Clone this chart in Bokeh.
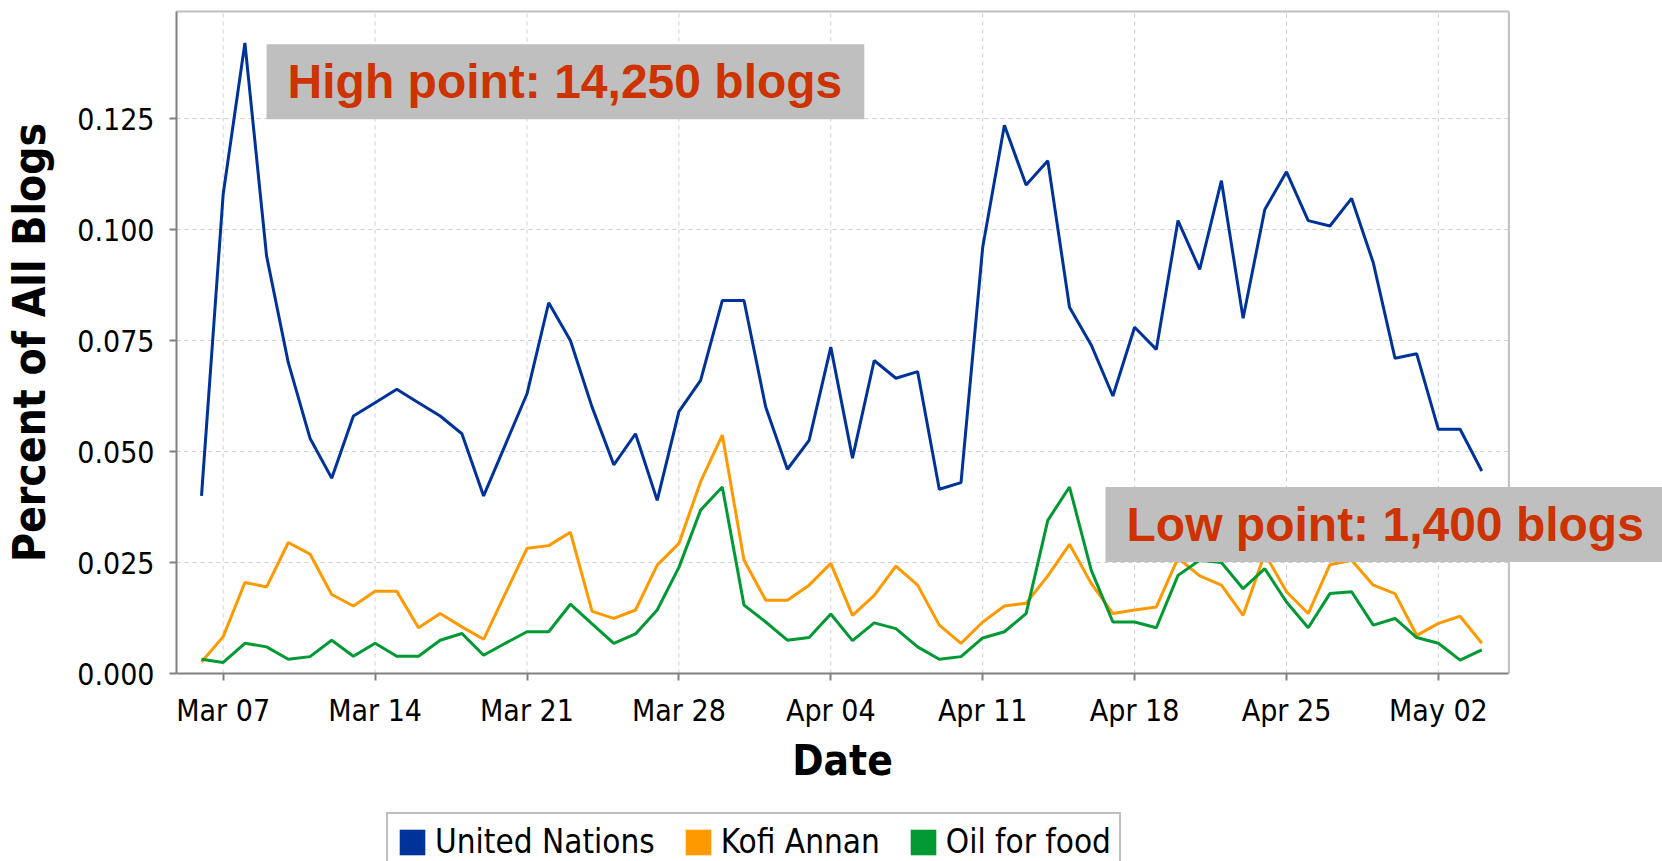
from datetime import datetime, timedelta
import pandas as pd
from bokeh.plotting import figure
from bokeh.models import (Range1d, FixedTicker, DatetimeTickFormatter, NumeralTickFormatter,
                          Legend, LegendItem, Label, ColumnDataSource)
from bokeh.embed import file_html
from bokeh.resources import INLINE

# ---------------- data ----------------
dates = pd.date_range("2005-03-06", "2005-05-04", freq="D")

united_nations = [0.040, 0.108, 0.142, 0.094, 0.070, 0.053, 0.044, 0.058, 0.061, 0.064,
                  0.061, 0.058, 0.054, 0.040, 0.0515, 0.063, 0.0835, 0.075, 0.060, 0.047,
                  0.054, 0.039, 0.059, 0.066, 0.084, 0.084, 0.060, 0.046, 0.0525, 0.0735,
                  0.0485, 0.0705, 0.0665, 0.068, 0.0415, 0.043, 0.096, 0.1235, 0.110, 0.1155,
                  0.0825, 0.074, 0.0625, 0.078, 0.073, 0.102, 0.091, 0.111, 0.080, 0.1045,
                  0.113, 0.102, 0.1008, 0.107, 0.0925, 0.071, 0.072, 0.055, 0.055, 0.0456]

kofi_annan = [0.0026, 0.0083, 0.0205, 0.0195, 0.0295, 0.0269, 0.0178, 0.0152, 0.0185, 0.0185,
              0.0103, 0.0135, 0.0105, 0.0077, 0.018, 0.0282, 0.0288, 0.0318, 0.014, 0.0124,
              0.0143, 0.0244, 0.0293, 0.0432, 0.0537, 0.0255, 0.0165, 0.0165, 0.0199, 0.0248,
              0.0131, 0.0176, 0.0242, 0.0199, 0.0109, 0.0068, 0.0116, 0.0152, 0.0158, 0.022,
              0.0291, 0.0203, 0.0135, 0.0143, 0.015, 0.026, 0.022, 0.0199, 0.0131, 0.027,
              0.0184, 0.0135, 0.0245, 0.0255, 0.0199, 0.018, 0.0086, 0.0113, 0.0129, 0.0068]

oil_for_food = [0.0032, 0.0025, 0.0068, 0.006, 0.0032, 0.0038, 0.0075, 0.0039, 0.0068, 0.0039,
                0.0039, 0.0075, 0.009, 0.0041, 0.0068, 0.0094, 0.0094, 0.0156, 0.0112, 0.0068,
                0.0089, 0.0143, 0.0239, 0.0368, 0.042, 0.0154, 0.0116, 0.0075, 0.0081, 0.0134,
                0.0074, 0.0114, 0.0101, 0.006, 0.0032, 0.0038, 0.008, 0.0094, 0.0135, 0.0345,
                0.042, 0.0233, 0.0116, 0.0116, 0.0103, 0.0221, 0.0255, 0.025, 0.0191, 0.0236,
                0.0161, 0.0103, 0.018, 0.0184, 0.0109, 0.0124, 0.0081, 0.0068, 0.003, 0.0053]

series_names = ["United Nations", "Kofi Annan", "Oil for food"]
series_colors = ["#003399", "#ff9900", "#009933"]

x_tick_dates = ["2005-03-07", "2005-03-14", "2005-03-21", "2005-03-28", "2005-04-04",
                "2005-04-11", "2005-04-18", "2005-04-25", "2005-05-02"]
y_ticks = [0.0, 0.025, 0.050, 0.075, 0.100, 0.125]

high_text = "High point: 14,250 blogs"
low_text = "Low point: 1,400 blogs"

# ---------------- layout constants ----------------
# The frame covers the whole canvas so that the legend and the annotation boxes,
# which lie outside the plotted area, are not clipped; the axes sit at fixed locations.
X_START = datetime(2005, 3, 4, 20, 21)          # left edge of the plotted area
X_DATA_END = datetime(2005, 5, 5, 6, 0)         # right border of the plotted area
X_VIEW_START = datetime(2005, 3, 7) - timedelta(days=222.7 / 21.70)
X_VIEW_END = datetime(2005, 3, 7) + timedelta(days=(1662 - 222.7) / 21.70)
Y_TOP = 0.1491
Y_VIEW_TOP = 673 / 4440.0
Y_VIEW_BOTTOM = -(861 - 673) / 4440.0

TICK_FONT = "DejaVu Sans Condensed"
GRID_COLOR = "#cfcfcf"

x_ticks_ms = [pd.Timestamp(d).value // 10**6 for d in x_tick_dates]

p = figure(width=1662, height=861, x_axis_type="datetime",
           output_backend="svg", toolbar_location=None,
           x_range=Range1d(start=X_VIEW_START, end=X_VIEW_END),
           y_range=Range1d(Y_VIEW_BOTTOM, Y_VIEW_TOP),
           min_border_left=0, min_border_right=0, min_border_top=0, min_border_bottom=0)

p.background_fill_color = "white"
p.border_fill_color = "white"
p.outline_line_color = None
p.grid.grid_line_color = None

# grid lines limited to the plotted area
p.segment(x0=[X_START] * len(y_ticks), x1=[X_DATA_END] * len(y_ticks), y0=y_ticks, y1=y_ticks,
          line_color=GRID_COLOR, line_dash="4 4", line_width=1)
p.segment(x0=x_ticks_ms, x1=x_ticks_ms, y0=[0] * len(x_ticks_ms), y1=[Y_TOP] * len(x_ticks_ms),
          line_color=GRID_COLOR, line_dash="4 4", line_width=1)

# top and right border of the plotted area
p.segment(x0=[X_START, X_DATA_END], x1=[X_DATA_END, X_DATA_END], y0=[Y_TOP, 0], y1=[Y_TOP, Y_TOP],
          line_color="#c0c0c0", line_width=2)

src = ColumnDataSource(dict(date=dates, un=united_nations, ka=kofi_annan, off=oil_for_food))
for col, color in zip(["un", "ka", "off"], series_colors):
    p.line("date", col, source=src, line_color=color, line_width=3)

# axes, fixed at the plotted area's left and bottom edges
p.xaxis.ticker = FixedTicker(ticks=x_ticks_ms)
fmt = "%b %d"
p.xaxis.formatter = DatetimeTickFormatter(days=fmt, months=fmt, hours=fmt, hourmin=fmt, years=fmt)
p.xaxis.bounds = (X_START, X_DATA_END)
p.xaxis.fixed_location = 0
p.yaxis.ticker = FixedTicker(ticks=y_ticks)
p.yaxis.formatter = NumeralTickFormatter(format="0.000")
p.yaxis.bounds = (0, Y_TOP)
p.yaxis.fixed_location = pd.Timestamp(X_START).value // 10**6

for ax in (p.xaxis[0], p.yaxis[0]):
    ax.axis_line_color = "#808080"
    ax.axis_line_width = 2
    ax.major_tick_line_color = "#808080"
    ax.major_tick_line_width = 2
    ax.major_tick_out = 7
    ax.major_tick_in = 0
    ax.minor_tick_line_color = None
    ax.major_label_text_font = TICK_FONT
    ax.major_label_text_font_size = "30px"
    ax.major_label_text_color = "black"
    ax.axis_label_text_font = TICK_FONT
    ax.axis_label_text_font_style = "bold"
    ax.axis_label_text_color = "black"

p.xaxis.axis_label = "Date"
p.xaxis.axis_label_text_font_size = "42px"
p.xaxis.major_label_standoff = 12
p.xaxis.axis_label_standoff = 5
p.yaxis.axis_label = "Percent of All Blogs"
p.yaxis.axis_label_text_font_size = "44px"
p.yaxis.major_label_standoff = 15
p.yaxis.axis_label_standoff = 19

# legend with square swatches: zero-area quads anchored on each series' first point
items = []
for name, color, values in zip(series_names, series_colors,
                               [united_nations, kofi_annan, oil_for_food]):
    r = p.quad(left=[dates[0]], right=[dates[0]], top=[values[0]], bottom=[values[0]],
               fill_color=color, line_color=None)
    items.append(LegendItem(label=name, renderers=[r]))

legend = Legend(items=items, orientation="horizontal", location=(386, -10),
                border_line_color="#808080", border_line_width=2,
                background_fill_color="white", background_fill_alpha=1.0,
                padding=8, spacing=27, label_standoff=7, margin=0,
                glyph_width=32, glyph_height=32,
                label_text_font=TICK_FONT, label_text_font_size="33px",
                label_text_color="black")
p.add_layout(legend)

# annotations
ann_style = dict(text_font="Liberation Sans", text_font_style="bold", text_font_size="48px",
                 text_color="#cc3300", text_baseline="alphabetic", text_align="left",
                 background_fill_color="#bfbfbf", background_fill_alpha=1.0,
                 padding=dict(left=21, right=22, top=11, bottom=11))
p.add_layout(Label(x=datetime(2005, 3, 9, 0, 0), y=0.1333, text=high_text, **ann_style))
p.add_layout(Label(x=datetime(2005, 4, 16, 15, 50), y=0.03355, text=low_text, **ann_style))

open("out.html", "w").write(file_html(p, INLINE))
